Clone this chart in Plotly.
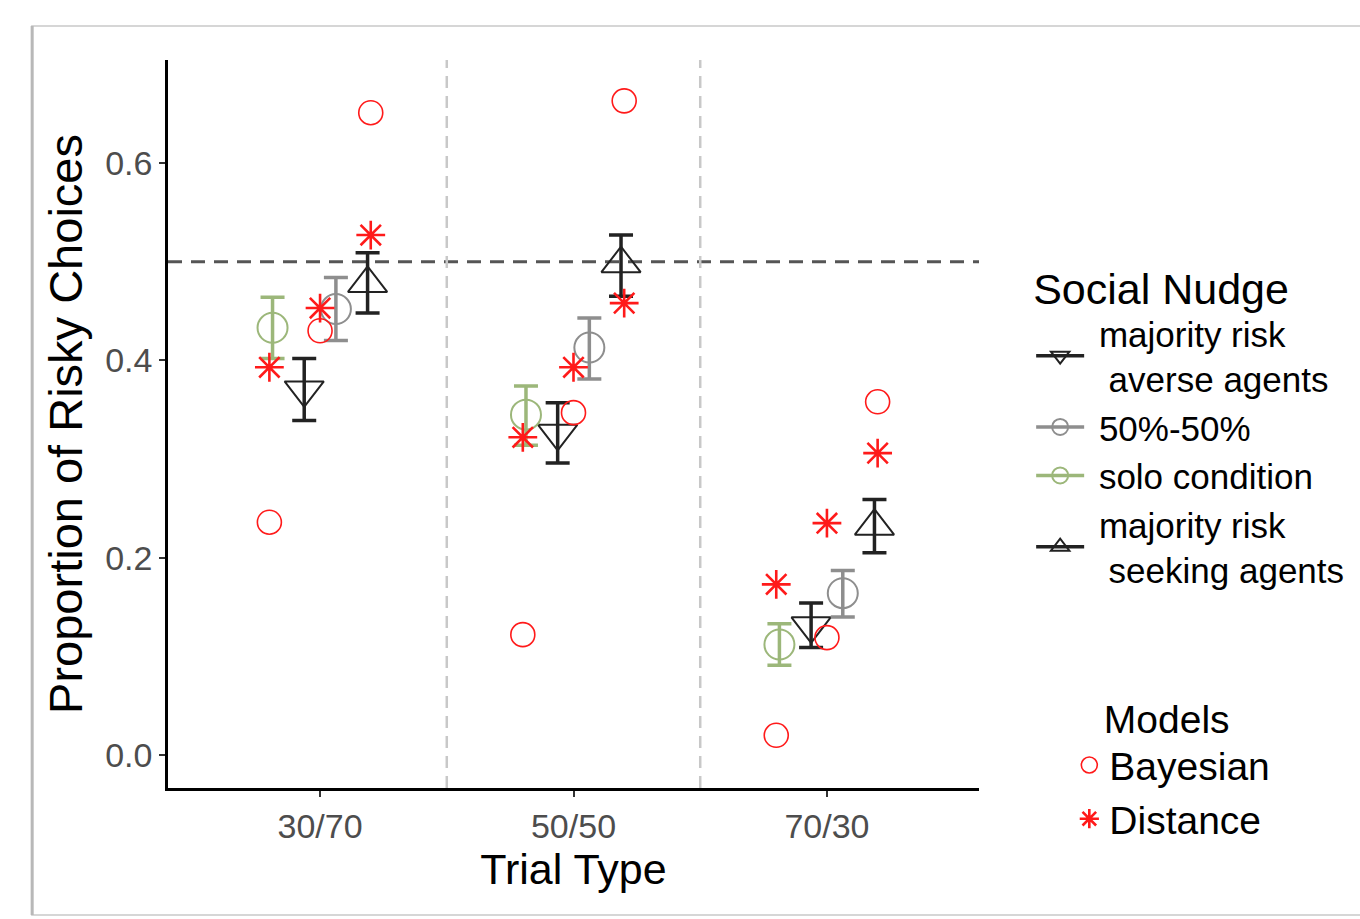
import numpy as np
import plotly.graph_objects as go

# ---------------- data ----------------
trial_types = ["30/70", "50/50", "70/30"]

solo_mean = [0.433, 0.345, 0.112]
solo_low = [0.402, 0.314, 0.091]
solo_high = [0.464, 0.374, 0.133]

averse_mean = [0.370, 0.326, 0.131]
averse_low = [0.339, 0.296, 0.109]
averse_high = [0.402, 0.357, 0.154]

fifty_mean = [0.452, 0.413, 0.164]
fifty_low = [0.420, 0.381, 0.140]
fifty_high = [0.484, 0.443, 0.187]

seeking_mean = [0.478, 0.498, 0.232]
seeking_low = [0.448, 0.465, 0.205]
seeking_high = [0.509, 0.527, 0.259]

# model predictions (majority averse, 50%-50%, majority seeking)
bayes_averse = [0.236, 0.122, 0.020]
bayes_fifty = [0.430, 0.347, 0.119]
bayes_seeking = [0.651, 0.663, 0.358]

dist_averse = [0.393, 0.322, 0.173]
dist_fifty = [0.453, 0.393, 0.235]
dist_seeking = [0.527, 0.458, 0.306]

chance_level = 0.5

# ---------------- helpers ----------------
FONT = "Liberation Sans, Arial, Helvetica, sans-serif"
base = np.arange(1, len(trial_types) + 1, dtype=float)
NB = "\u00a0"


def gapped(vals):
    """interleave None so that 'lines+markers' draws no segments (legend key only)"""
    out = []
    for i, v in enumerate(vals):
        if i:
            out.append(None)
        out.append(v)
    return out


def cond_trace(name, mean, low, high, offset, color, symbol, size, rank):
    x = base + offset
    plus = [h - m for m, h in zip(mean, high)]
    minus = [m - l for m, l in zip(mean, low)]
    return go.Scatter(
        x=gapped(list(x)), y=gapped(mean),
        mode="lines+markers", name=name, legend="legend", legendrank=rank,
        line=dict(color=color, width=3.5),
        marker=dict(symbol=symbol, size=size, color=color, line=dict(width=2, color=color)),
        error_y=dict(type="data", symmetric=False,
                     array=gapped(plus), arrayminus=gapped(minus),
                     color=color, thickness=3.5, width=12),
        connectgaps=False,
    )


fig = go.Figure()

GREEN = "#9cb77a"
GRAY = "#8e8e8e"
BLACK = "#222222"
RED = "#ff1a1a"

pad = NB
fig.add_trace(cond_trace(pad + "majority risk<br>" + pad + NB + "averse agents", averse_mean, averse_low, averse_high,
                         -0.0625, BLACK, "triangle-down-open", 34, 1))
fig.add_trace(cond_trace(pad + "50%-50%", fifty_mean, fifty_low, fifty_high,
                         0.0625, GRAY, "circle-open", 30, 2))
fig.add_trace(cond_trace(pad + "solo condition", solo_mean, solo_low, solo_high,
                         -0.1875, GREEN, "circle-open", 30, 3))
fig.add_trace(cond_trace(pad + "majority risk<br>" + pad + NB + "seeking agents", seeking_mean, seeking_low, seeking_high,
                         0.1875, BLACK, "triangle-up-open", 34, 4))

model_offsets = [-0.2, 0.0, 0.2]


def model_xy(series):
    xs, ys = [], []
    for off, vals in zip(model_offsets, series):
        xs += list(base + off)
        ys += list(vals)
    return xs, ys


bx, by = model_xy([bayes_averse, bayes_fifty, bayes_seeking])
dx, dy = model_xy([dist_averse, dist_fifty, dist_seeking])

fig.add_trace(go.Scatter(x=bx, y=by, mode="markers", name="Bayesian", legend="legend2",
                         marker=dict(symbol="circle-open", size=24, color=RED, line=dict(width=1.6, color=RED))))
fig.add_trace(go.Scatter(x=dx, y=dy, mode="markers", name="Distance", legend="legend2",
                         marker=dict(symbol="asterisk-open", size=24, color=RED, line=dict(width=2.6, color=RED))))

# reference lines
fig.add_hline(y=chance_level, line=dict(color="#555555", width=3, dash="14px,9px"), layer="below")
for b in (base[:-1] + 0.5):
    fig.add_vline(x=b, line=dict(color="#c8c8c8", width=2.5, dash="12px,8px"), layer="below")

# outer frame of the figure
fig.add_shape(type="rect", xref="paper", yref="paper", x0=-0.1675, x1=1.48, y0=-0.1745, y1=1.0467,
              line=dict(color="#d6d6d6", width=2), layer="below")
fig.add_shape(type="line", xref="paper", yref="paper", x0=-0.1675, x1=-0.1675, y0=-0.1745, y1=1.0467,
              line=dict(color="#b8b8b8", width=3), layer="below")

fig.update_layout(
    width=1360, height=919,
    margin=dict(l=168, r=380, t=60, b=131),
    paper_bgcolor="white", plot_bgcolor="white",
    font=dict(family=FONT, color="black"),
    showlegend=True,
    legend=dict(
        title=dict(text="Social Nudge", font=dict(size=43, family=FONT, color="black")),
        font=dict(size=35, family=FONT, color="black"),
        x=1.063, xanchor="left", y=0.742, yanchor="top",
        itemwidth=48, traceorder="normal", bgcolor="rgba(0,0,0,0)",
    ),
    legend2=dict(
        title=dict(text=NB * 3 + "Models", font=dict(size=39, family=FONT, color="black")),
        font=dict(size=39, family=FONT, color="black"),
        x=1.11, xanchor="left", y=0.145, yanchor="top",
        itemwidth=30, bgcolor="rgba(0,0,0,0)",
    ),
)

fig.update_xaxes(
    range=[0.4, 3.6], tickvals=list(base), ticktext=trial_types,
    showline=True, linecolor="black", linewidth=2.5,
    ticks="outside", ticklen=6, tickwidth=2, tickcolor="#333333",
    tickfont=dict(size=34, color="#4d4d4d", family=FONT),
    showgrid=False, zeroline=False,
    title=dict(text="Trial Type", font=dict(size=43, color="black", family=FONT), standoff=6),
)
fig.update_yaxes(
    range=[-0.0334, 0.7044], tickvals=[0.0, 0.2, 0.4, 0.6], ticktext=["0.0", "0.2", "0.4", "0.6"],
    showline=True, linecolor="black", linewidth=2.5,
    ticks="outside", ticklen=6, tickwidth=2, tickcolor="#333333",
    tickfont=dict(size=34, color="#4d4d4d", family=FONT),
    showgrid=False, zeroline=False,
    title=dict(text="Proportion of Risky Choices", font=dict(size=47, color="black", family=FONT), standoff=8),
)

fig.write_html("out.html")
